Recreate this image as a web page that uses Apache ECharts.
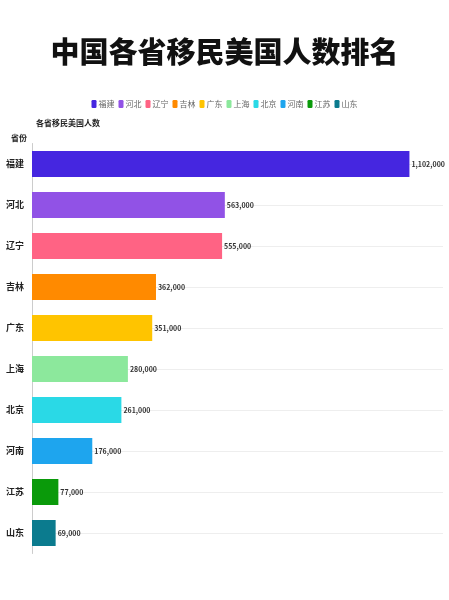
<!DOCTYPE html>
<html>
<head>
<meta charset="utf-8">
<script src="https://cdn.jsdelivr.net/npm/echarts@6/dist/echarts.min.js"></script>
<style>
  html,body{margin:0;padding:0;background:#fff;}
  #main{width:449px;height:600px;}
</style>
</head>
<body>
<div id="main"></div>
<script>
// data
var provinces = ['福建','河北','辽宁','吉林','广东','上海','北京','河南','江苏','山东'];
var people = [1102000, 563000, 555000, 362000, 351000, 280000, 261000, 176000, 77000, 69000];
var barColors = ['#4526e0','#9152e6','#ff6384','#ff8a00','#ffc400','#8ce89c','#2ad9e6','#1ea5ee','#0a9a0a','#0b7b8e'];

var font = '"Noto Sans CJK SC", "Noto Sans", sans-serif';

var chart = echarts.init(document.getElementById('main'));

// one series per province so the legend shows each colour
var series = provinces.map(function(name, i){
	return {
		name: name,
		type: 'bar',
		stack: 'all',
		barWidth: 26,
		itemStyle: {color: barColors[i]},
		label: {
			show: true,
			position: 'right',
			distance: 2,
			fontSize: 7,
			fontWeight: 'bold',
			fontFamily: font,
			color: '#333',
			formatter: function(p){ return p.value.toLocaleString('en-US'); }
		},
		data: provinces.map(function(p, j){ return j === i ? people[i] : '-'; })
	};
});

var option = {
	animation: false,
	backgroundColor: '#fff',
	color: barColors,
	title: [
		{
			text: '中国各省移民美国人数排名',
			left: 'center',
			top: 32,
			textStyle: {fontSize: 29, fontWeight: 900, color: '#111', fontFamily: font}
		},
		{
			text: '各省移民美国人数',
			left: 31,
			top: 114,
			textStyle: {fontSize: 8, fontWeight: 'bold', color: '#222', fontFamily: font}
		},
		{
			text: '省份',
			left: 6,
			top: 129,
			textStyle: {fontSize: 8, fontWeight: 'bold', color: '#222', fontFamily: font}
		}
	],
	legend: {
		top: 95,
		left: 'center',
		itemWidth: 5,
		itemHeight: 8,
		itemGap: 4,
		icon: 'roundRect',
		textStyle: {fontSize: 8, color: '#666', fontFamily: font, padding: [0,0,0,-3]},
		data: provinces
	},
	grid: {left: 32, right: 6, top: 143.5, bottom: 46.5},
	xAxis: {
		type: 'value',
		min: 0,
		max: 1200000,
		show: false
	},
	yAxis: {
		type: 'category',
		inverse: true,
		data: provinces,
		axisLine: {lineStyle: {color: '#ccc'}},
		axisTick: {alignWithLabel: true, length: 5, lineStyle: {color: '#ccc'}},
		axisLabel: {fontSize: 9, fontWeight: 'bold', color: '#222', fontFamily: font, margin: 8},
		splitLine: {show: true, alignWithLabel: true, lineStyle: {color: '#eee'}}
	},
	series: series
};

chart.setOption(option);
</script>
</body>
</html>
